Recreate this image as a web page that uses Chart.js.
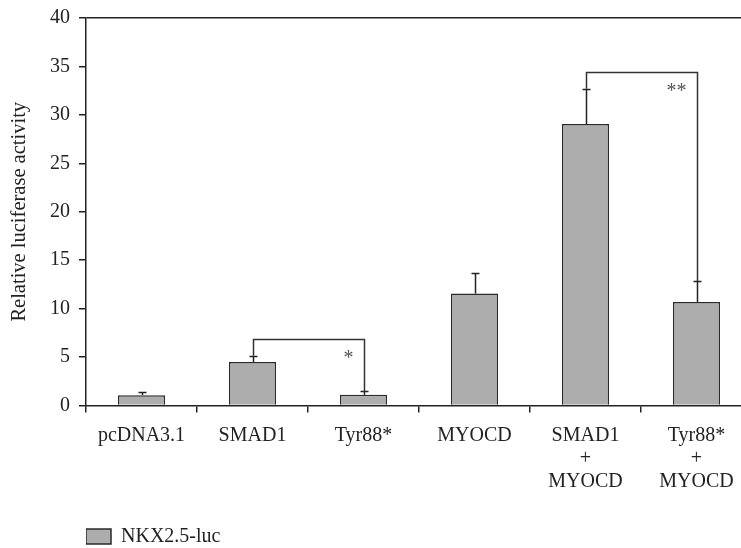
<!DOCTYPE html>
<html>
<head>
<meta charset="utf-8">
<script src="https://cdn.jsdelivr.net/npm/chart.js@4/dist/chart.umd.min.js"></script>
<style>
  html, body { margin: 0; padding: 0; background: #fff; overflow: hidden; }
  canvas { display: block; }
</style>
</head>
<body>
<canvas id="c" width="760" height="560"></canvas>
<script>
// ---- data ----
const categories = ['pcDNA3.1', 'SMAD1', 'Tyr88*', 'MYOCD', ['SMAD1', '+', 'MYOCD'], ['Tyr88*', '+', 'MYOCD']];
const activity = [1.07, 4.49, 1.10, 11.55, 29.05, 10.69];
const errorUpper = [0.31, 0.65, 0.35, 2.15, 3.65, 2.17];
const seriesName = 'NKX2.5-luc';
const yMin = 0, yMax = 40, yStep = 5;
const bracketFrom = [1, 4];
const bracketTo = [2, 5];
const bracketLevel = [6.86, 34.46];
const bracketMark = ['*', '**'];

const FONT = "'Liberation Serif', 'Times New Roman', serif";
const INK = '#222';

const annotations = {
  id: 'annotations',
  afterDatasetsDraw(chart) {
    const xs = chart.scales.x, ys = chart.scales.y, ctx = chart.ctx;
    ctx.save();
    ctx.strokeStyle = INK;
    ctx.lineWidth = 1.5;
    // error bars (upper only)
    activity.forEach((v, i) => {
      const px = Math.round(xs.getPixelForValue(i)) + 0.5;
      const base = ys.getPixelForValue(v);
      const top = Math.round(ys.getPixelForValue(v + errorUpper[i])) + 0.5;
      ctx.beginPath();
      ctx.moveTo(px, base);
      ctx.lineTo(px, top);
      ctx.stroke();
      ctx.beginPath();
      ctx.moveTo(px - 4, top);
      ctx.lineTo(px + 4, top);
      ctx.stroke();
    });
    // significance brackets
    bracketFrom.forEach((f, k) => {
      const t = bracketTo[k];
      const x1 = Math.round(xs.getPixelForValue(f)) + 0.5, x2 = Math.round(xs.getPixelForValue(t)) + 0.5;
      const yl = Math.round(ys.getPixelForValue(bracketLevel[k])) + 0.5;
      const y1 = ys.getPixelForValue(activity[f] + errorUpper[f]);
      const y2 = ys.getPixelForValue(activity[t] + errorUpper[t]);
      ctx.strokeStyle = '#333';
      ctx.beginPath();
      ctx.moveTo(x1, y1);
      ctx.lineTo(x1, yl);
      ctx.lineTo(x2, yl);
      ctx.lineTo(x2, y2);
      ctx.stroke();
      ctx.fillStyle = '#555';
      ctx.font = '20px ' + FONT;
      ctx.textAlign = 'center';
      ctx.textBaseline = 'alphabetic';
      const off = bracketMark[k].length > 1 ? 21 : 16;
      ctx.fillText(bracketMark[k], x2 - off, yl + 24);
    });
    ctx.restore();
  }
};

new Chart(document.getElementById('c'), {
  type: 'bar',
  data: {
    labels: categories,
    datasets: [{
      label: seriesName,
      data: activity,
      backgroundColor: '#adadad',
      borderColor: '#2a2a2a',
      borderWidth: 1.5,
      categoryPercentage: 1.0,
      barPercentage: 0.425
    }]
  },
  options: {
    responsive: false,
    devicePixelRatio: 1,
    animation: false,
    layout: { padding: { top: 18, bottom: 3.5, left: 0, right: 8 } },
    plugins: {
      tooltip: { enabled: false },
      legend: {
        position: 'bottom',
        align: 'start',
        fullSize: false,
        labels: {
          boxWidth: 25,
          boxHeight: 15,
          padding: 0,
          color: INK,
          font: { family: FONT, size: 20 }
        }
      }
    },
    scales: {
      x: {
        offset: true,
        grid: {
          offset: true,
          drawOnChartArea: false,
          drawTicks: true,
          tickLength: 7,
          tickColor: INK,
          lineWidth: 1.5
        },
        border: { color: INK, width: 1.5 },
        ticks: {
          color: INK,
          font: { family: FONT, size: 20, lineHeight: 1.135 },
          padding: 12,
          maxRotation: 0,
          autoSkip: false
        },
        afterFit(s) { s.height = 121; }
      },
      y: {
        min: yMin,
        max: yMax,
        ticks: {
          stepSize: yStep,
          padding: 9,
          color: INK,
          font: { family: FONT, size: 20 }
        },
        grid: {
          drawOnChartArea: true,
          color: (c) => (c.tick && c.tick.value === yMax ? INK : 'rgba(0,0,0,0)'),
          tickColor: INK,
          tickLength: 7,
          lineWidth: 1.5
        },
        border: { color: INK, width: 1.5 },
        title: {
          display: true,
          text: 'Relative luciferase activity',
          color: INK,
          font: { family: FONT, size: 20.5 },
          padding: { top: 7, bottom: 0 }
        },
        afterFit(s) { s.width = 86; s.paddingTop = 0; s.paddingBottom = 0; }
      }
    }
  },
  plugins: [annotations]
});
</script>
</body>
</html>
